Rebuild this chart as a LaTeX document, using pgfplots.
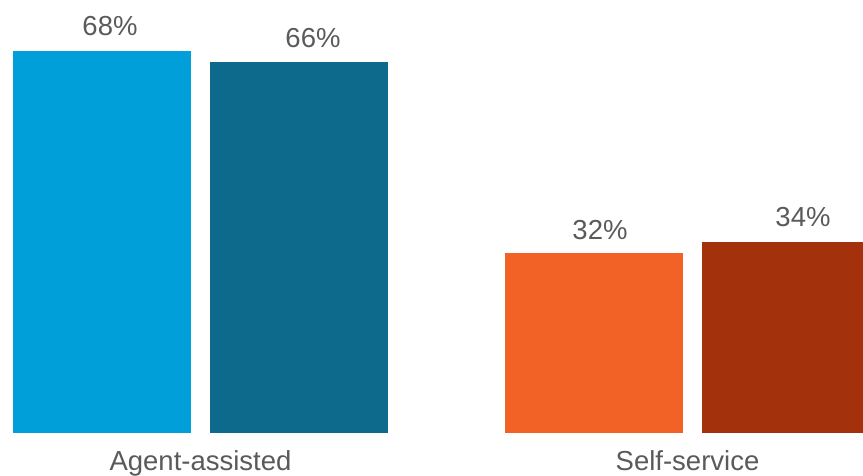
\documentclass[border=0pt]{standalone}
\usepackage{pgfplots}
\pgfplotsset{compat=1.18}
\usepackage{fontspec}
\setmainfont{Liberation Sans}
\definecolor{c1}{HTML}{009FDA}
\definecolor{c2}{HTML}{0E6A8C}
\definecolor{c3}{HTML}{F26125}
\definecolor{c4}{HTML}{A3310B}
\definecolor{txt}{HTML}{5A5A5A}
\tikzset{lbl/.style={font=\fontsize{27.5}{30}\selectfont, text=txt, inner sep=0pt, anchor=base}}
\begin{document}
\begin{tikzpicture}
\begin{axis}[
  scale only axis, width=863pt, height=476pt,
  xmin=0, xmax=863, ymin=-7.70, ymax=77.0,
  hide axis, clip=true,
  ybar, bar width=178, bar shift=0pt,
]
\addplot[fill=c1, draw=none] coordinates {(102,68)};
\addplot[fill=c2, draw=none] coordinates {(299,66)};
\addplot[fill=c3, draw=none] coordinates {(594,32)};
\addplot[fill=c4, draw=none] coordinates {(791,34)};
\node[lbl] at (axis cs:110,70.77) {68\%};
\node[lbl] at (axis cs:313,68.63) {66\%};
\node[lbl] at (axis cs:600,34.47) {32\%};
\node[lbl] at (axis cs:803,36.78) {34\%};
\node[lbl] at (axis cs:200.5,-6.64) {Agent-assisted};
\node[lbl] at (axis cs:687.5,-6.81) {Self-service};
\end{axis}
\pgfresetboundingbox
\path[use as bounding box] (current axis.south west) rectangle (current axis.north east);
\end{tikzpicture}
\end{document}
